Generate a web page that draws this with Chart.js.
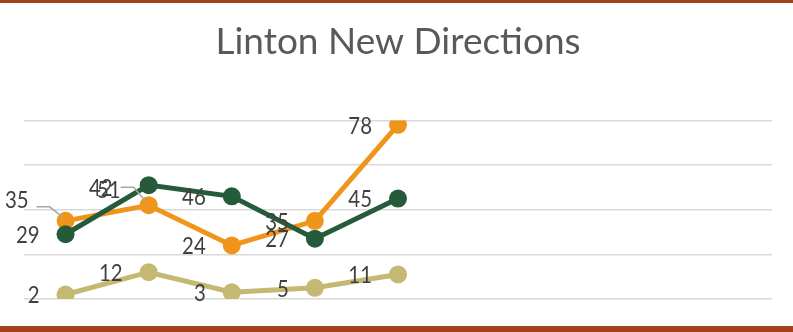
<!DOCTYPE html>
<html>
<head>
<meta charset="utf-8">
<script src="https://cdn.jsdelivr.net/npm/chart.js@4.4.1/dist/chart.umd.min.js"></script>
<style>
    html, body { margin: 0; padding: 0; background: #ffffff; }
    #wrap { width: 793px; height: 332px; position: relative; }
</style>
</head>
<body>
<div id="wrap"><canvas id="grafico"></canvas></div>
<script>
// Datos del grafico
const categorias = ['1', '2', '3', '4', '5', '6', '7', '8', '9'];
const serieNaranja = [35, 42, 24, 35, 78, null, null, null, null];
const serieVerde = [29, 51, 46, 27, 45, null, null, null, null];
const serieBeige = [2, 12, 3, 5, 11, null, null, null, null];
const ticksY = [0, 20, 40, 60, 80];

const colorNaranja = '#F0951B';
const colorVerde = '#255B3B';
const colorBeige = '#C4B873';

// Bordes superior e inferior del marco
const marcoPlugin = {
    id: 'marco',
    beforeDraw(chart) {
        const ctx = chart.ctx;
        ctx.save();
        ctx.fillStyle = '#ffffff';
        ctx.fillRect(0, 0, chart.width, chart.height);
        ctx.fillStyle = '#A2421B';
        ctx.fillRect(0, 0, chart.width, 3);
        ctx.fillRect(0, chart.height - 6, chart.width, 6);
        ctx.restore();
    }
};

// Etiquetas de datos a la izquierda de cada punto (estilo Excel)
const etiquetasPlugin = {
    id: 'etiquetas',
    afterDatasetsDraw(chart, args, opts) {
        const ctx = chart.ctx;
        ctx.save();
        ctx.font = opts.font;
        ctx.fillStyle = opts.color;
        ctx.textAlign = 'right';
        ctx.textBaseline = 'middle';
        opts.orden.forEach(function (di) {
            const meta = chart.getDatasetMeta(di);
            const datos = chart.data.datasets[di].data;
            meta.data.forEach(function (pt, i) {
                if (datos[i] === null) return;
                const mov = (opts.movidas[di] || {})[i];
                let x = pt.x - opts.gap;
                let y = pt.y;
                if (mov) {
                    x = pt.x + mov.dx;
                    y = pt.y + mov.dy;
                    if (mov.guia !== undefined) {
                        ctx.strokeStyle = '#A6A6A6';
                        ctx.lineWidth = 1.5;
                        ctx.beginPath();
                        ctx.moveTo(x + 8, y + mov.guia);
                        ctx.lineTo(x + 21, y + mov.guia);
                        ctx.lineTo(pt.x - 3, pt.y - 4);
                        ctx.stroke();
                    }
                }
                // texto algo estrecho, como la fuente original
                ctx.save();
                ctx.translate(x, y + 1);
                ctx.scale(opts.estrechez, 1);
                ctx.fillText(String(datos[i]), 0, 0);
                ctx.restore();
            });
        });
        ctx.restore();
    }
};

const ctx = document.getElementById('grafico').getContext('2d');
new Chart(ctx, {
    type: 'line',
    data: {
        labels: categorias,
        datasets: [
            {
                label: 'Serie 3',
                data: serieBeige,
                borderColor: colorBeige,
                backgroundColor: colorBeige,
                borderWidth: 5,
                pointRadius: 9,
                pointHoverRadius: 9,
                pointBorderWidth: 0
            },
            {
                label: 'Serie 2',
                data: serieVerde,
                borderColor: colorVerde,
                backgroundColor: colorVerde,
                borderWidth: 5,
                pointRadius: 9,
                pointHoverRadius: 9,
                pointBorderWidth: 0
            },
            {
                label: 'Serie 1',
                data: serieNaranja,
                borderColor: colorNaranja,
                backgroundColor: colorNaranja,
                borderWidth: 5,
                pointRadius: 9,
                pointHoverRadius: 9,
                pointBorderWidth: 0
            }
        ]
    },
    options: {
        responsive: true,
        maintainAspectRatio: false,
        animation: false,
        spanGaps: false,
        layout: {
            padding: { left: 24, right: 21, top: 0, bottom: 33 }
        },
        scales: {
            x: {
                display: false,
                offset: true
            },
            y: {
                min: 0,
                max: 80,
                afterBuildTicks: function (eje) {
                    eje.ticks = ticksY.map(function (v) { return { value: v }; });
                },
                ticks: { display: false },
                grid: { color: '#D9D9D9', lineWidth: 1.5, drawTicks: false },
                border: { display: false }
            }
        },
        plugins: {
            legend: { display: false },
            tooltip: { enabled: false },
            title: {
                display: true,
                text: 'Linton New Directions',
                color: '#595959',
                font: { family: 'Lato, "Open Sans", sans-serif', size: 37, weight: 'normal', lineHeight: 1.2 },
                padding: { top: 20, bottom: 56 }
            },
            etiquetas: {
                font: '24px Lato, "Open Sans", sans-serif',
                color: '#404040',
                estrechez: 0.85,
                gap: 26,
                orden: [2, 1, 0],
                movidas: {
                    2: {
                        0: { dx: -37, dy: -22, guia: 8 },
                        1: { dx: -36, dy: -18, guia: 0 }
                    },
                    1: {
                        1: { dx: -28, dy: 4 }
                    }
                }
            }
        }
    },
    plugins: [marcoPlugin, etiquetasPlugin]
});
</script>
</body>
</html>
